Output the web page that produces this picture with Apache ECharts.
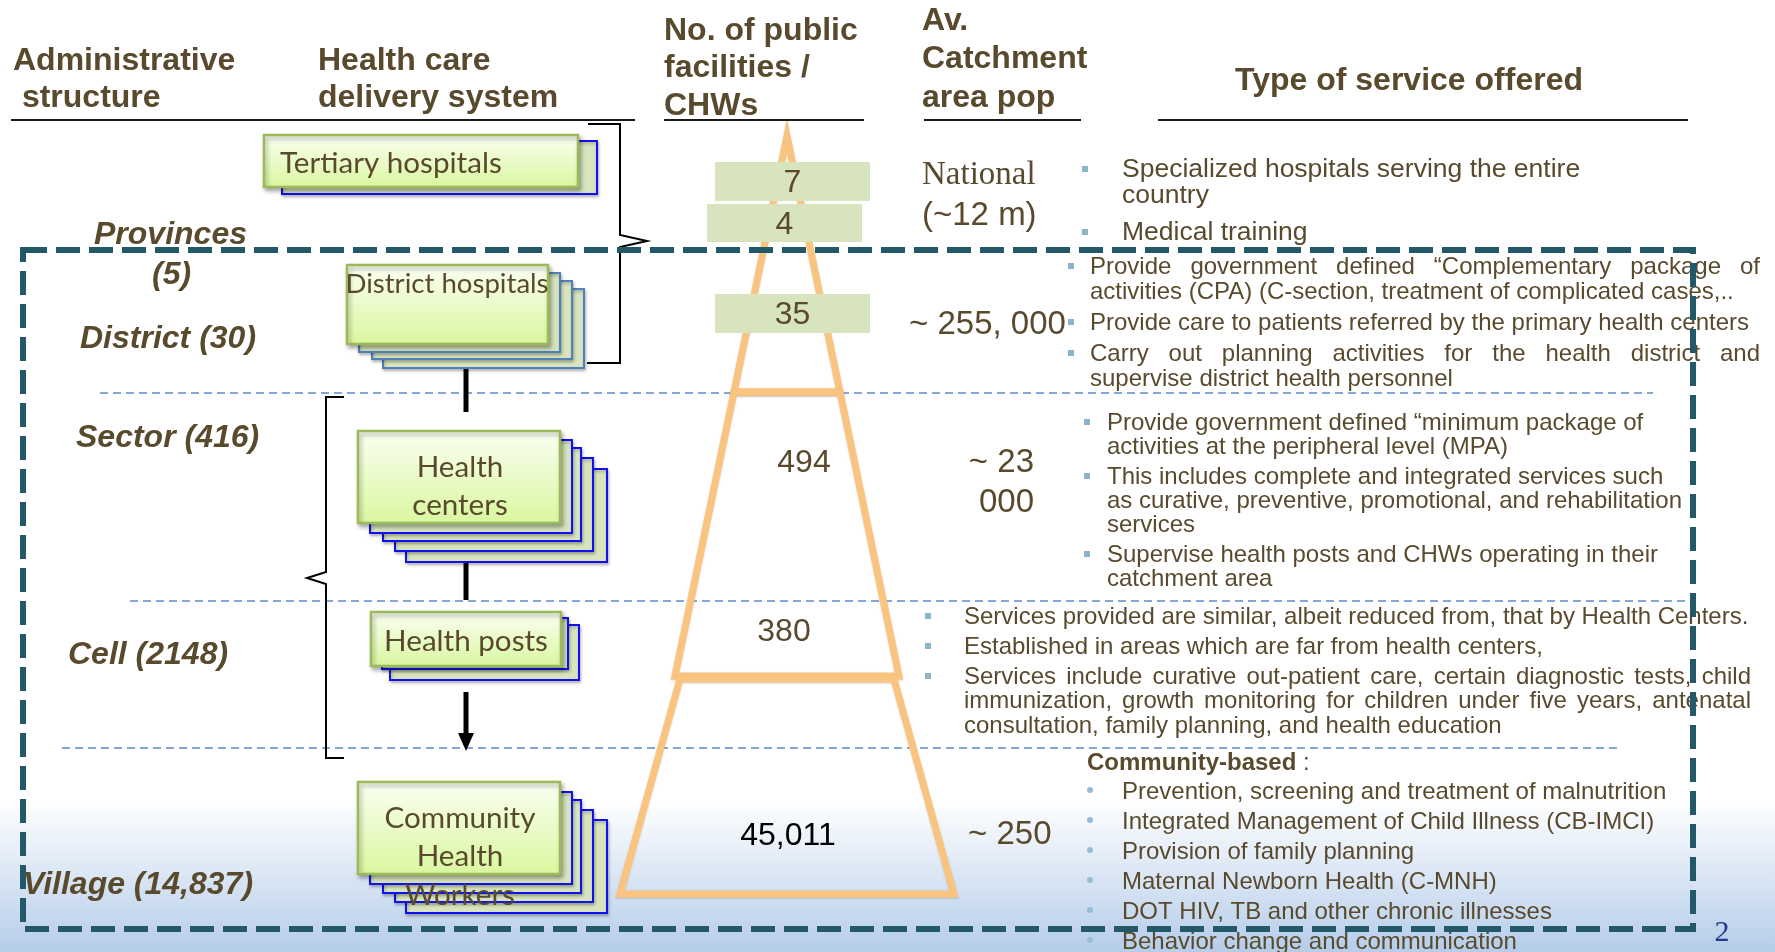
<!DOCTYPE html>
<html><head><meta charset="utf-8">
<script src="https://cdn.jsdelivr.net/npm/echarts@6/dist/echarts.min.js"></script>
<style>html,body{margin:0;padding:0;background:#fff}#c{width:1775px;height:952px}</style>
</head><body><div id="c"></div>
<script>
// ---------------- DATA ----------------
const headers = ['Administrative\n structure', 'Health care\ndelivery system', 'No. of public\nfacilities /\nCHWs', 'Av.\nCatchment\narea pop', 'Type of service offered'];
const adminLevels = ['Provinces', '(5)', 'District (30)', 'Sector (416)', 'Cell (2148)', 'Village (14,837)'];
const facilityTypes = ['Tertiary hospitals', 'District hospitals', 'Health\ncenters', 'Health posts', 'Community\nHealth\nWorkers'];
const facilityCounts = ['7', '4', '35', '494', '380', '45,011'];
const catchmentPop = ['National', '(~12 m)', '~ 255, 000', '~ 23\n000', '~ 250'];
const servicesTertiary = ['Specialized hospitals serving the entire\ncountry', 'Medical training'];
const servicesDistrict = ['Provide government defined \u201cComplementary package of\nactivities (CPA) (C-section, treatment of complicated cases,..', 'Provide care to patients referred by the primary health centers', 'Carry out planning activities for the health district and\nsupervise district health personnel'];
const servicesSector = ['Provide government defined \u201cminimum package of\nactivities at the peripheral level (MPA)', 'This includes complete and integrated services such\nas curative, preventive, promotional, and rehabilitation\nservices', 'Supervise health posts and CHWs operating in their\ncatchment area'];
const servicesCell = ['Services provided are similar, albeit reduced from, that by Health Centers.', 'Established in areas which are far from health centers,', 'Services include curative out-patient care, certain diagnostic tests, child\nimmunization, growth monitoring for children under five years, antenatal\nconsultation, family planning, and health education'];
const servicesVillageTitle = 'Community-based';
const servicesVillage = ['Prevention, screening and treatment of malnutrition', 'Integrated Management of Child Illness (CB-IMCI)', 'Provision of family planning', 'Maternal Newborn Health (C-MNH)', 'DOT HIV, TB and other chronic illnesses', 'Behavior change and communication'];
const pageNumber = '2';

// ---------------- LAYOUT / STYLE ----------------
const BROWN = '#594A2D';
const SANS = '"Liberation Sans", Arial, sans-serif';
const SERIF = '"Liberation Serif", "Times New Roman", serif';
const BOXFAM = 'Lato, "Open Sans", sans-serif';
const f = (size, weight, style, fam) => `${style || 'normal'} ${weight || 'normal'} ${size}px ${fam || SANS}`;
const mctx = document.createElement('canvas').getContext('2d');
const tw = (t, font) => { mctx.font = font; return mctx.measureText(t).width; };

const L = {
  headers: [{x: 13, y: 61, lh: 37.5}, {x: 318, y: 61, lh: 37.5}, {x: 664, y: 31, lh: 37.5}, {x: 922, y: 21, lh: 38.5}, {x: 1409, y: 81, lh: 37, align: 'center'}],
  headerSize: 32,
  underlines: [[11, 635], null, [664, 864], [924, 1081], [1158, 1688]], underlineY: 120,
  admin: [[94, 235], [152, 275], [80, 339], [76, 438], [68, 655], [23, 885]], adminSize: 32,
  separators: [[393, 100, 1653], [601, 130, 1687], [748, 62, 1617]],
  pyramidCx: 787,
  pyramid: [[136, 392, 0, 53], [392, 676, 53, 112], [679, 894, 107, 167]],
  counts: [{box: [715, 162, 870, 201]}, {box: [707, 204, 862, 242]}, {box: [715, 294, 870, 333]}, {pos: [804, 463]}, {pos: [784, 632]}, {pos: [788, 836], color: '#000'}],
  countSize: 32,
  catch: [{x: 922, y: 175, serif: true}, {x: 922, y: 216}, {x: 909, y: 325}, {x: 1034, y: 463, lh: 40, align: 'right'}, {x: 968, y: 835}],
  catchSize: 33,
  boxes: [
    {front: [264, 135, 578, 187], backs: [[282, 141, 597, 194]], edge: '#1010F0', tx: 280, ty: 163, align: 'left', size: 31.5},
    {front: [347, 265, 548, 344], backs: [[359, 273, 560, 352], [372, 281, 572, 359], [383, 289, 584, 368]], edge: '#4F81BD', tx: 447, ty: 284, size: 29.3},
    {front: [358, 431, 560, 523], backs: [[370, 440, 572, 533], [383, 448, 581, 541], [395, 458, 593, 551], [406, 469, 607, 562]], edge: '#1010F0', tx: 460, ty: 467, lh: 38, size: 31.5},
    {front: [371, 612, 561, 666], backs: [[382, 618, 568, 669], [390, 625, 579, 680]], edge: '#1010F0', tx: 466, ty: 641, size: 31.5},
    {front: [358, 782, 560, 874], backs: [[370, 792, 572, 884], [383, 800, 581, 893], [395, 810, 593, 902], [406, 820, 607, 913]], edge: '#1010F0', tx: 460, ty: 818, lh: 38.5, size: 31.5}
  ],
  connectors: [[466, 368, 412], [466, 562, 600]],
  arrow: [466, 692, 751],
  braceRight: [[588, 124], [620, 124], [620, 235], [647, 241], [620, 247], [620, 363], [587, 363]],
  braceLeft: [[344, 397], [326, 397], [326, 572], [307, 578], [326, 584], [326, 758], [344, 758]],
  services: [
    {bx: 1085, x: 1122, y0: 170, lh: 26, gap: 11, size: 26.5, bullet: 'square'},
    {bx: 1071, x: 1090, y0: 267, lh: 25, gap: 6, size: 24, bullet: 'square', right: 1760, justify: [0, 3]},
    {bx: 1087, x: 1107, y0: 423, lh: 24, gap: 6, size: 24, bullet: 'square'},
    {bx: 928, x: 964, y0: 617, lh: 24.5, gap: 5.5, size: 24, bullet: 'square', right: 1751, justify: [2, 3]},
    {bx: 1090, x: 1122, y0: 792, lh: 30, gap: 0, size: 24, bullet: 'dot', title: [1087, 763]}
  ],
  frame: [23, 250, 1693, 929],
  page: [1722, 933]
};
const serviceGroups = [servicesTertiary, servicesDistrict, servicesSector, servicesCell, servicesVillage];

// ---------------- helpers ----------------
function T(text, p, font, fill, align, va) {
  return {type: 'text', x: p[0], y: p[1], style: {text: text, font: font, fill: fill || BROWN, align: align || 'left', verticalAlign: va || 'middle'}};
}
function R(c, b, style, extra) {
  const a = c(b[0], b[1]), d = c(b[2], b[3]);
  return Object.assign({type: 'rect', shape: {x: a[0], y: a[1], width: d[0] - a[0], height: d[1] - a[1]}, style: style}, extra || {});
}
function layer(name, items, z, build) {
  return {
    type: 'custom', name: name, coordinateSystem: 'cartesian2d', clip: false, silent: true, z: z,
    data: items.map((_, i) => [i, 0]),
    renderItem: (params, api) => ({type: 'group', children: build(params.dataIndex, (x, y) => api.coord([x, y]))})
  };
}

const boxBase = 222 / tw('Tertiary hospitals', f(100, 'normal', 'normal', BOXFAM)) * 100 / 31.5;

const series = [
  layer('background', [0], 1, (i, c) => {
    const a = c(0, 0), b = c(1775, 952);
    return [{type: 'rect', shape: {x: a[0], y: a[1], width: b[0] - a[0], height: b[1] - a[1]},
      style: {fill: new echarts.graphic.LinearGradient(0, 0, 0, 1, [{offset: 0, color: '#FFFFFF'}, {offset: 0.84, color: '#FFFFFF'}, {offset: 1, color: '#B5CDE9'}])}}];
  }),
  layer('separators', L.separators, 2, (i, c) => {
    const s = L.separators[i];
    const a = c(s[1], s[0]), b = c(s[2], s[0]);
    return [{type: 'line', shape: {x1: a[0], y1: a[1], x2: b[0], y2: b[1]}, style: {stroke: '#5A8BCB', lineWidth: 1.5, lineDash: [8, 5]}}];
  }),
  layer('pyramid', L.pyramid, 3, (i, c) => {
    const s = L.pyramid[i], cx = L.pyramidCx;
    const pts = s[2] === 0 ? [c(cx, s[0]), c(cx + s[3], s[1]), c(cx - s[3], s[1])]
      : [c(cx - s[2], s[0]), c(cx + s[2], s[0]), c(cx + s[3], s[1]), c(cx - s[3], s[1])];
    return [{type: 'polygon', shape: {points: pts}, style: {fill: null, stroke: '#F9C47F', lineWidth: 7, lineJoin: 'miter', miterLimit: 20,
      shadowColor: 'rgba(120,90,40,0.25)', shadowBlur: 2, shadowOffsetY: 1}}];
  }),
  layer('counts', facilityCounts, 4, (i, c) => {
    const s = L.counts[i], els = [];
    let p;
    if (s.box) {
      els.push(R(c, s.box, {fill: '#D7E4BD'}));
      p = c((s.box[0] + s.box[2]) / 2, (s.box[1] + s.box[3]) / 2 + 2);
    } else p = c(s.pos[0], s.pos[1]);
    els.push(T(facilityCounts[i], p, f(L.countSize), s.color || BROWN, 'center'));
    return els;
  }),
  layer('catchment', catchmentPop, 5, (i, c) => {
    const s = L.catch[i];
    return catchmentPop[i].split('\n').map((ln, j) =>
      T(ln, c(s.x, s.y + j * (s.lh || 0)), s.serif ? f(L.catchSize, 'normal', 'normal', SERIF) : f(L.catchSize), BROWN, s.align || 'left'));
  }),
  layer('headers', headers, 6, (i, c) => {
    const s = L.headers[i];
    const els = headers[i].split('\n').map((ln, j) => T(ln, c(s.x, s.y + j * s.lh), f(L.headerSize, 'bold'), BROWN, s.align || 'left'));
    const u = L.underlines[i];
    if (u) {
      const a = c(u[0], L.underlineY), b = c(u[1], L.underlineY);
      els.push({type: 'line', shape: {x1: a[0], y1: a[1], x2: b[0], y2: b[1]}, style: {stroke: '#1a1a1a', lineWidth: 2}});
    }
    return els;
  }),
  layer('admin', adminLevels, 7, (i, c) => [T(adminLevels[i], c(L.admin[i][0], L.admin[i][1]), f(L.adminSize, 'bold', 'italic'), BROWN, 'left')]),
  layer('links', [0], 8, (i, c) => {
    const els = [];
    [L.braceRight, L.braceLeft].forEach(br => els.push({type: 'polyline', shape: {points: br.map(p => c(p[0], p[1]))}, style: {fill: null, stroke: '#000', lineWidth: 2}}));
    L.connectors.forEach(k => { const a = c(k[0], k[1]), b = c(k[0], k[2]);
      els.push({type: 'line', shape: {x1: a[0], y1: a[1], x2: b[0], y2: b[1]}, style: {stroke: '#000', lineWidth: 5}}); });
    const ar = L.arrow, a = c(ar[0], ar[1]), b = c(ar[0], ar[2] - 16);
    els.push({type: 'line', shape: {x1: a[0], y1: a[1], x2: b[0], y2: b[1]}, style: {stroke: '#000', lineWidth: 5}});
    els.push({type: 'polygon', shape: {points: [c(ar[0] - 8, ar[2] - 18), c(ar[0] + 8, ar[2] - 18), c(ar[0], ar[2])]}, style: {fill: '#000'}});
    return els;
  }),
  layer('facilities', facilityTypes, 9, (i, c) => {
    const s = L.boxes[i], els = [];
    for (let k = s.backs.length - 1; k >= 0; k--) {
      els.push(R(c, s.backs[k], {fill: '#D7E4BD', stroke: s.edge, lineWidth: 2, shadowColor: 'rgba(0,0,0,0.25)', shadowBlur: 3, shadowOffsetX: 1, shadowOffsetY: 2}));
    }
    els.push(R(c, s.front, {fill: new echarts.graphic.LinearGradient(0, 0, 0, 1, [{offset: 0, color: '#FBFFF4'}, {offset: 1, color: '#D9F79E'}]),
      stroke: '#9BBB59', lineWidth: 2.5, shadowColor: 'rgba(0,0,0,0.3)', shadowBlur: 4, shadowOffsetX: 2, shadowOffsetY: 3}));
    const font = f((s.size * boxBase).toFixed(1), 'normal', 'normal', BOXFAM);
    facilityTypes[i].split('\n').forEach((ln, j) => els.push(T(ln, c(s.tx, s.ty + j * (s.lh || 0)), font, BROWN, s.align || 'center')));
    return els;
  }),
  layer('services', serviceGroups, 10, (g, c) => {
    const s = L.services[g], els = [], font = f(s.size);
    if (s.title) {
      const bf = f(s.size, 'bold');
      els.push(T(servicesVillageTitle, c(s.title[0], s.title[1]), bf, BROWN));
      els.push(T(' :', c(s.title[0] + tw(servicesVillageTitle, bf), s.title[1]), font, BROWN));
    }
    let y = s.y0, idx = 0;
    serviceGroups[g].forEach((item, k) => {
      if (k > 0) y += s.lh + s.gap;
      item.split('\n').forEach((ln, j) => {
        if (j > 0) y += s.lh;
        if (j === 0) {
          if (s.bullet === 'square') {
            const p = c(s.bx - 3, y - 4);
            els.push({type: 'rect', shape: {x: p[0], y: p[1], width: 6, height: 6}, style: {fill: '#8CB4C8'}});
          } else {
            const p = c(s.bx, y - 2);
            els.push({type: 'circle', shape: {cx: p[0], cy: p[1], r: 3}, style: {fill: '#97BCD6'}});
          }
        }
        if (s.justify && s.justify.indexOf(idx) >= 0) {
          const words = ln.split(' ');
          const ws = words.map(w => tw(w, font));
          const gapW = (s.right - s.x - ws.reduce((a, b) => a + b, 0)) / (words.length - 1);
          let x = s.x;
          words.forEach((w, m) => { els.push(T(w, c(x, y), font, BROWN)); x += ws[m] + gapW; });
        } else {
          els.push(T(ln, c(s.x, y), font, BROWN));
        }
        idx++;
      });
    });
    return els;
  }),
  layer('frame', [0], 11, (i, c) => [
    R(c, L.frame, {fill: null, stroke: '#235868', lineWidth: 6, lineDash: [24, 9]}),
    T(pageNumber, c(L.page[0], L.page[1]), f(30, 'normal', 'normal', SERIF), '#1F3A8A', 'center')
  ])
];

const chart = echarts.init(document.getElementById('c'), null, {renderer: 'canvas'});
chart.setOption({
  animation: false,
  grid: {left: 0, right: 0, top: 0, bottom: 0},
  xAxis: {type: 'value', min: 0, max: 1775, show: false},
  yAxis: {type: 'value', min: 0, max: 952, inverse: true, show: false},
  series: series
});
</script></body></html>
